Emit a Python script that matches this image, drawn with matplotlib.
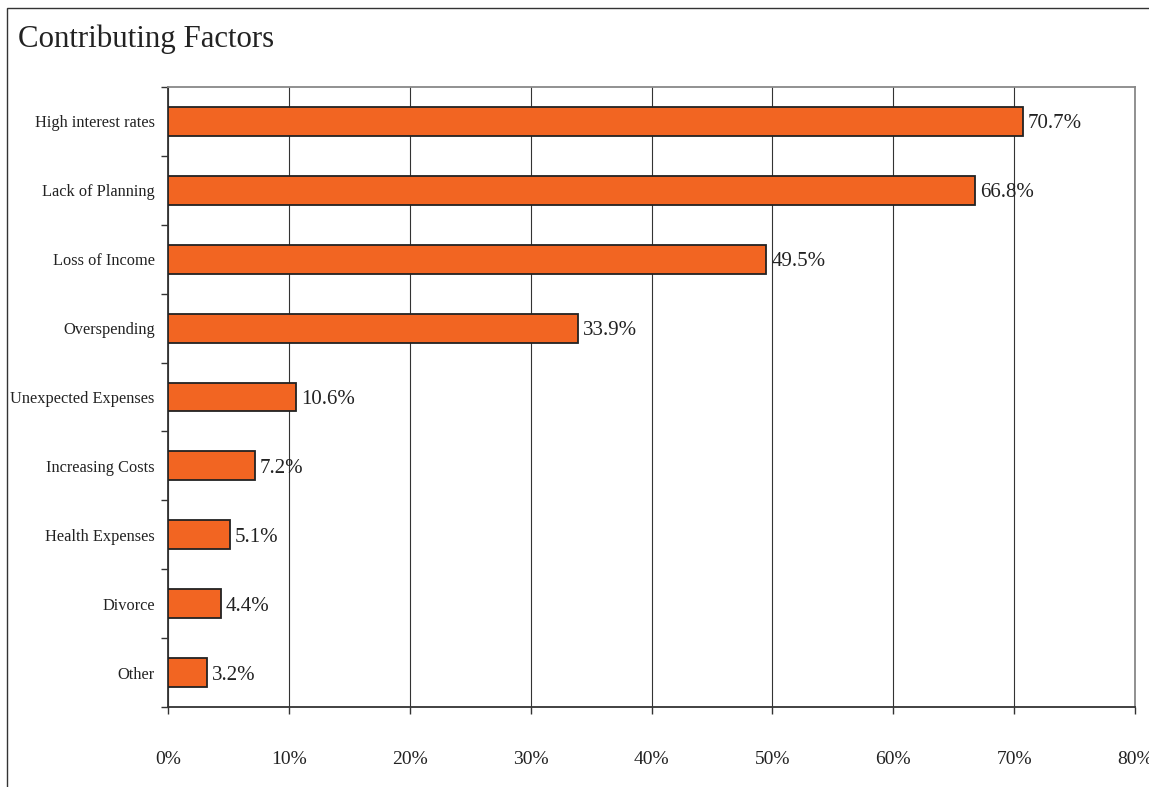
import matplotlib.pyplot as plt
import matplotlib.patches as mpatches
import numpy as np

categories = ["High interest rates", "Lack of Planning", "Loss of Income", "Overspending",
              "Unexpected Expenses", "Increasing Costs", "Health Expenses", "Divorce", "Other"]
values = [70.7, 66.8, 49.5, 33.9, 10.6, 7.2, 5.1, 4.4, 3.2]
x_ticks = [0, 10, 20, 30, 40, 50, 60, 70, 80]

plt.rcParams['font.family'] = ['Liberation Serif', 'DejaVu Serif']

fig = plt.figure(figsize=(11.49, 7.87), dpi=100)
ax = fig.add_axes([168 / 1149, 80 / 787, (1135 - 168) / 1149, (707 - 87) / 787])

# cadre de la figure
fig.patches.append(mpatches.Rectangle((7 / 1149, -0.05), 1.2, 1.05 + (787 - 8) / 787 - 1.0,
                                      transform=fig.transFigure, fill=False,
                                      edgecolor='#333333', linewidth=1.0))
fig.text(18 / 1149, 1 - 39 / 787, "Contributing Factors", fontsize=22.2, color='#222222',
         va='center', ha='left')

y = np.arange(len(categories))
ax.barh(y, values, height=0.42, color='#F26522', edgecolor='#222222', linewidth=1.3, zorder=3)
for yi, v in zip(y, values):
    ax.text(v + 0.4, yi, f"{v:.1f}%", va='center_baseline', ha='left', fontsize=15,
            color='#222222', zorder=4)

ax.set_xlim(0, 80)
ax.set_ylim(len(categories) - 0.5, -0.5)
ax.set_xticks(x_ticks)
ax.set_xticklabels([f"{t}%" for t in x_ticks], fontsize=14, color='#222222')
ax.set_yticks(y)
ax.set_yticklabels(categories, fontsize=11.8, color='#222222')
ax.set_yticks(np.arange(-0.5, len(categories)), minor=True)
ax.tick_params(axis='y', which='major', length=0, pad=9.5)
ax.tick_params(axis='y', which='minor', length=5, width=1, color='#333333', direction='out')
ax.tick_params(axis='x', length=5, width=1, color='#333333', direction='out', pad=27)

ax.grid(axis='x', color='#333333', linewidth=0.8, zorder=0)
for s in ['left', 'bottom']:
    ax.spines[s].set_color('#333333')
    ax.spines[s].set_linewidth(1.3)
for s in ['top', 'right']:
    ax.spines[s].set_color('#888888')
    ax.spines[s].set_linewidth(1.3)

fig.savefig("out.png", dpi=100)
